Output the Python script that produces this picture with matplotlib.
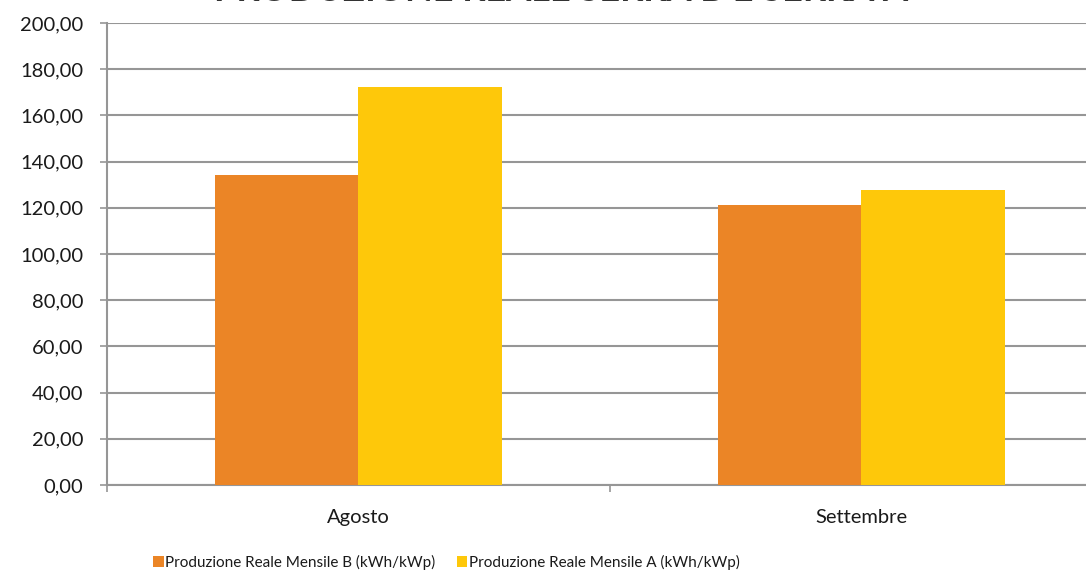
import numpy as np
import matplotlib
matplotlib.use('Agg')
import matplotlib.pyplot as plt
from matplotlib.ticker import FuncFormatter

months = ['Agosto', 'Settembre']
serra_b = [134.0, 121.0]
serra_a = [172.2, 127.9]
series_names = ['Produzione Reale Mensile B (kWh/kWp)', 'Produzione Reale Mensile A (kWh/kWp)']
title = 'PRODUZIONE REALE SERRA B E SERRA A'

plt.rcParams['font.family'] = ['Lato', 'DejaVu Sans']

fig = plt.figure(figsize=(10.86, 5.72), dpi=100)
ax = fig.add_axes([107 / 1086, 1 - 485 / 572, 1006 / 1086, 462 / 572])

x = np.arange(len(months))
w = 0.286
ax.bar(x - w / 2, serra_b, w, color='#EB8526', label=series_names[0], zorder=3)
ax.bar(x + w / 2, serra_a, w, color='#FEC80A', label=series_names[1], zorder=3)

ax.set_ylim(0, 200)
ax.set_xlim(-0.5, 1.5)
ax.set_yticks(np.arange(0, 201, 20))
ax.yaxis.set_major_formatter(FuncFormatter(lambda v, p: f'{v:.2f}'.replace('.', ',')))
ax.yaxis.grid(True, color='#969696', linewidth=1.5, zorder=0)

ax.set_xticks(x)
ax.set_xticklabels(months)
ax.set_xticks([-0.5, 0.5, 1.5], minor=True)
ax.tick_params(axis='x', which='major', length=0, pad=17, labelsize=14.5, labelcolor='#1a1a1a')
ax.tick_params(axis='x', which='minor', length=5, color='#969696', width=1.2)
ax.tick_params(axis='y', length=5, color='#969696', width=1.2, labelsize=14.5, pad=12,
               labelcolor='#1a1a1a')

for s in ['top', 'right']:
    ax.spines[s].set_visible(False)
for s in ['left', 'bottom']:
    ax.spines[s].set_color('#969696')
    ax.spines[s].set_linewidth(1.5)

# title sits mostly above the canvas, only its lower edge shows
fig.text(0.517, 1.016, title, ha='center', va='center', fontsize=26, fontweight='bold', color='#333333')

fig.legend(loc='center', bbox_to_anchor=(0.411, 0.017), ncol=2, frameon=False,
           fontsize=11, handlelength=0.7, handleheight=0.7, handletextpad=0.1, columnspacing=1.4,
           labelcolor='#1a1a1a')

fig.savefig('out.png', dpi=100)
